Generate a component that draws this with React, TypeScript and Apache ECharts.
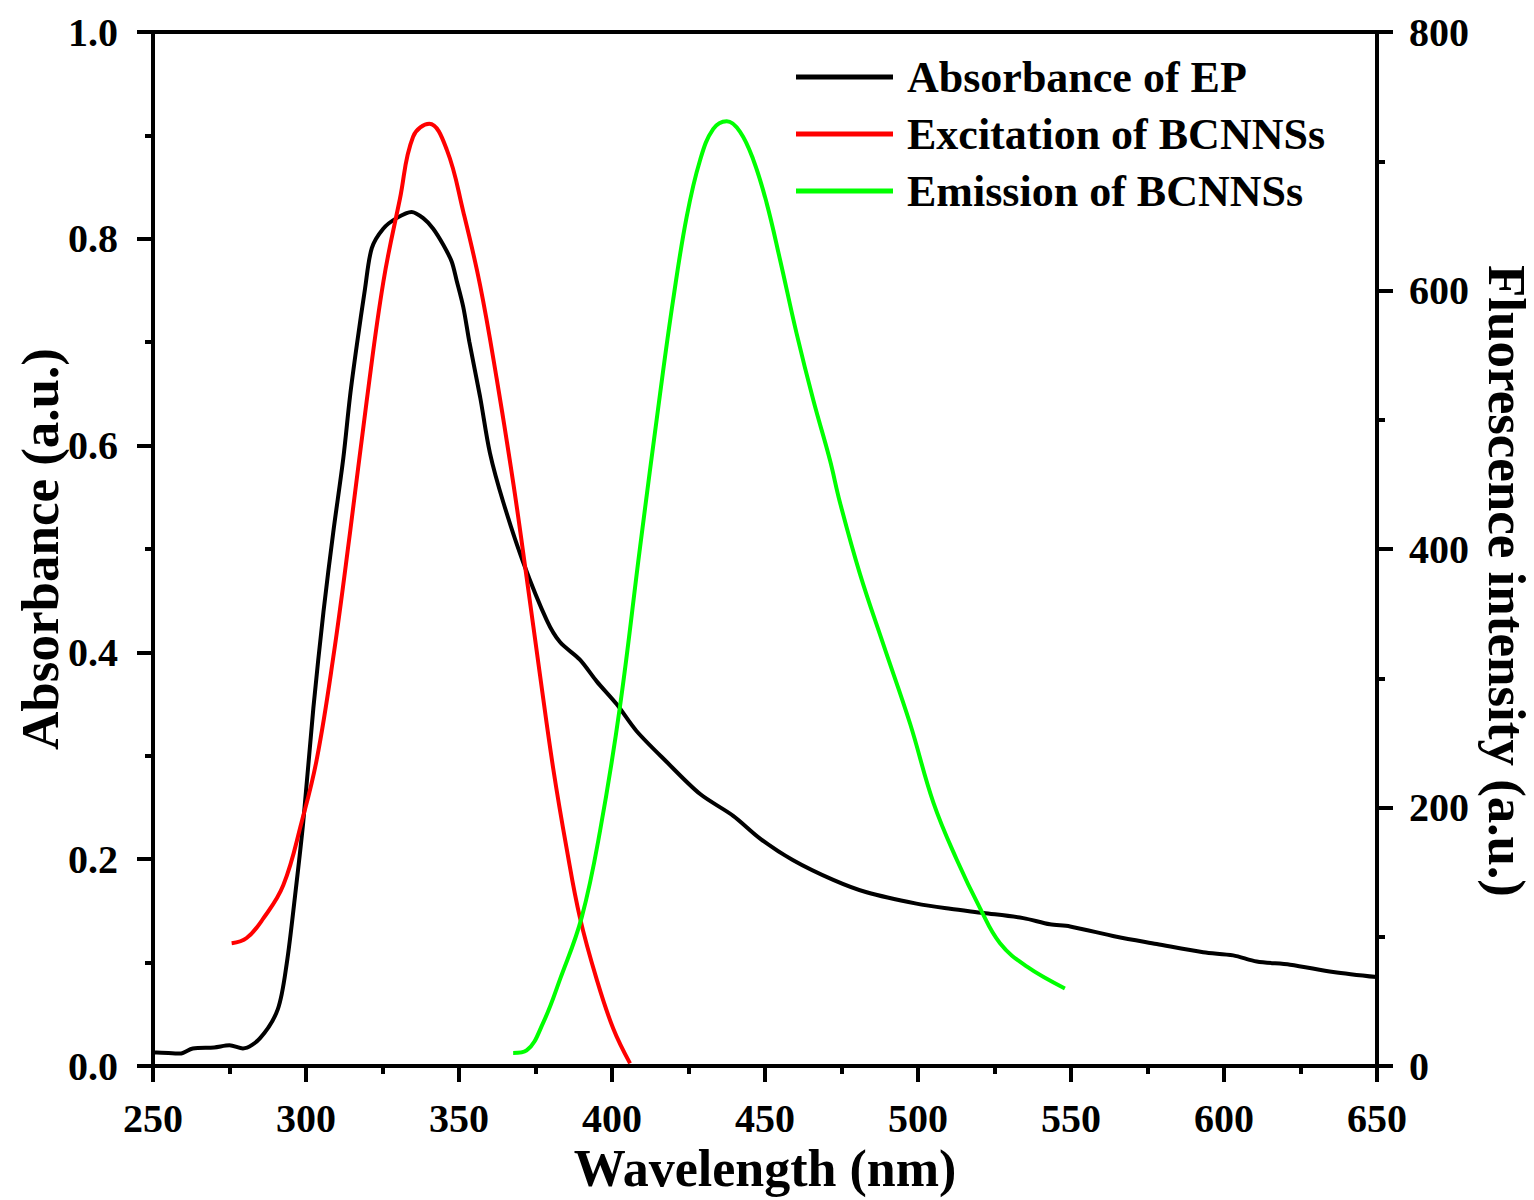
import React, { useEffect, useRef } from "react";
import * as echarts from "echarts";

// Absorbance of EP (left axis)
const absWavelength = [250, 251.2, 258.8, 263, 270, 275, 279.4, 285, 290.8, 293.7, 296.4, 299.1, 302.4, 305.7, 308.9, 312.2, 314.4, 316.6, 319.3, 321.5, 325.3, 329.6, 334.5, 338.3, 341.5, 344.9, 347.6, 349.2, 351.4, 353.4, 356.9, 360.1, 364.5, 371.0, 378.7, 383.0, 389.5, 395, 401.5, 408, 417.9, 428.8, 439.6, 448.4, 459.2, 472.3, 483.2, 499.5, 510.5, 521.4, 534.4, 543.1, 549.7, 564.9, 578.0, 593.2, 603.0, 610.7, 621.6, 635.7, 650];
const absValues = [0.013, 0.013, 0.012, 0.017, 0.018, 0.020, 0.017, 0.027, 0.055, 0.099, 0.164, 0.236, 0.346, 0.439, 0.516, 0.588, 0.648, 0.697, 0.752, 0.791, 0.810, 0.820, 0.826, 0.820, 0.810, 0.794, 0.778, 0.760, 0.734, 0.700, 0.647, 0.593, 0.545, 0.487, 0.431, 0.410, 0.393, 0.372, 0.350, 0.324, 0.294, 0.263, 0.242, 0.220, 0.199, 0.180, 0.168, 0.157, 0.152, 0.148, 0.143, 0.137, 0.135, 0.125, 0.118, 0.110, 0.107, 0.101, 0.098, 0.091, 0.086];

// Excitation of BCNNSs (right axis)
const excWavelength = [275.7, 280.6, 286.0, 292.6, 298.6, 303.5, 308.9, 314.4, 319.8, 325.3, 330.7, 335.0, 340.3, 346.0, 351.4, 356.9, 362.3, 367.8, 372.1, 376.5, 380.8, 385.2, 389.5, 395.0, 400.4, 405.9];
const excValues = [95, 99, 114, 140, 189, 237, 316, 413, 514, 607, 671, 719, 729, 709, 661, 604, 532, 450, 378, 302, 230, 168, 115, 67, 29, 2];

// Emission of BCNNSs (right axis)
const emWavelength = [367.7, 372.1, 377.6, 383.0, 390.1, 396.1, 402.6, 409.2, 415.7, 420.0, 424.4, 428.8, 433.1, 437.5, 441.8, 446.2, 450.5, 454.9, 460.3, 465.8, 471.2, 474.5, 481.0, 488.7, 497.4, 505.0, 512.6, 520.3, 526.8, 535.5, 548.0];
const emValues = [10, 12, 34, 67, 115, 182, 278, 402, 520, 593, 657, 701, 725, 731, 723, 701, 668, 624, 567, 515, 469, 436, 381, 326, 265, 204, 160, 122, 95, 77, 60];

const seriesNames = ["Absorbance of EP", "Excitation of BCNNSs", "Emission of BCNNSs"];
const seriesColors = ["#000000", "#ff0000", "#00ff00"];

const FONT = "'Liberation Serif', 'Times New Roman', serif";

export default function App() {
  const ref = useRef<HTMLDivElement>(null);
  useEffect(() => {
    if (!ref.current) return;
    const chart = echarts.init(ref.current, undefined, { renderer: "svg" });
    const pair = (xs: number[], ys: number[]) => xs.map((x, i) => [x, ys[i]]);
    const tickLabel = { fontFamily: FONT, fontWeight: "bold" as const, fontSize: 40, color: "#000" };
    const nameStyle = { fontFamily: FONT, fontWeight: "bold" as const, fontSize: 52, color: "#000" };
    const yNameStyle = { ...nameStyle, fontSize: 53 };
    const axisLine = { show: true, lineStyle: { color: "#000", width: 4 } };
    const axisTick = { show: true, length: 16, lineStyle: { color: "#000", width: 4 } };
    const minorTick = { show: true, splitNumber: 2, length: 8, lineStyle: { color: "#000", width: 4 } };
    chart.setOption({
      animation: false,
      backgroundColor: "#fff",
      grid: {
        left: 153,
        right: 157,
        top: 32,
        bottom: 134,
        show: true,
        borderColor: "#000",
        borderWidth: 4,
        containLabel: false,
        outerBoundsMode: "none",
      },
      legend: {
        orient: "vertical",
        left: 796,
        top: 55,
        padding: 0,
        itemWidth: 97,
        itemHeight: 5,
        itemGap: 13,
        icon: "rect",
        data: seriesNames,
        textStyle: { fontFamily: FONT, fontWeight: "bold", fontSize: 44, color: "#000", lineHeight: 44, padding: [0, 0, 0, 9] },
      },
      xAxis: {
        type: "value",
        min: 250,
        max: 650,
        interval: 50,
        name: "Wavelength (nm)",
        nameLocation: "middle",
        nameGap: 76,
        nameMoveOverlap: false,
        nameTextStyle: nameStyle,
        axisLine,
        axisTick,
        minorTick,
        splitLine: { show: false },
        axisLabel: { ...tickLabel, margin: 32 },
      },
      yAxis: [
        {
          type: "value",
          min: 0,
          max: 1,
          interval: 0.2,
          position: "left",
          name: "Absorbance (a.u.)",
          nameLocation: "middle",
          nameGap: 87,
          nameMoveOverlap: false,
          nameTextStyle: yNameStyle,
          axisLine,
          axisTick,
          minorTick,
          splitLine: { show: false },
          axisLabel: { ...tickLabel, margin: 35, formatter: (v: number) => v.toFixed(1) },
        },
        {
          type: "value",
          min: 0,
          max: 800,
          interval: 200,
          position: "right",
          name: "Fluorescence intensity (a.u.)",
          nameLocation: "middle",
          nameRotate: -90,
          nameGap: 103,
          nameMoveOverlap: false,
          nameTextStyle: { ...yNameStyle, padding: [0, 0, 0, 64] },
          axisLine,
          axisTick,
          minorTick,
          splitLine: { show: false },
          axisLabel: { ...tickLabel, margin: 32 },
        },
      ],
      series: [
        {
          name: seriesNames[0],
          type: "line",
          yAxisIndex: 0,
          data: pair(absWavelength, absValues),
          showSymbol: false,
          smooth: 0.3,
          lineStyle: { color: seriesColors[0], width: 4 },
          itemStyle: { color: seriesColors[0] },
        },
        {
          name: seriesNames[1],
          type: "line",
          yAxisIndex: 1,
          data: pair(excWavelength, excValues),
          showSymbol: false,
          smooth: 0.4,
          lineStyle: { color: seriesColors[1], width: 4 },
          itemStyle: { color: seriesColors[1] },
        },
        {
          name: seriesNames[2],
          type: "line",
          yAxisIndex: 1,
          data: pair(emWavelength, emValues),
          showSymbol: false,
          smooth: 0.4,
          lineStyle: { color: seriesColors[2], width: 4 },
          itemStyle: { color: seriesColors[2] },
        },
      ],
    });
    return () => chart.dispose();
  }, []);
  return (
    <div
      ref={ref}
      style={{ position: "absolute", left: 0, top: 0, width: 1534, height: 1200, background: "#fff" }}
    />
  );
}
